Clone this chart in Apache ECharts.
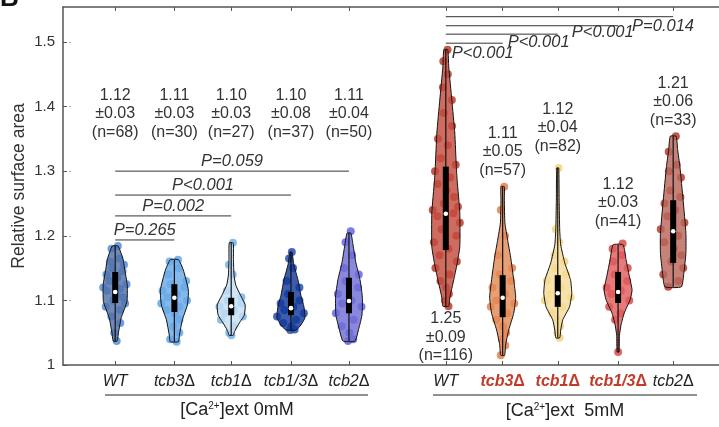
<!DOCTYPE html>
<html><head><meta charset="utf-8">
<script src="https://cdn.jsdelivr.net/npm/echarts@6/dist/echarts.min.js"></script>
<style>html,body{margin:0;padding:0;background:#fff}#c{width:719px;height:427px}</style>
</head><body><div id="c"></div>
<script>
// ---------------- data ----------------
const strains = ['WT','tcb3','tcb1','tcb1/3','tcb2','WT','tcb3','tcb1','tcb1/3','tcb2'];
const highlighted = [false,false,false,false,false,false,true,true,true,false];
const means = ['1.12','1.11','1.10','1.10','1.11','1.25','1.11','1.12','1.12','1.21'];
const sds   = ['0.03','0.03','0.03','0.08','0.04','0.09','0.05','0.04','0.03','0.06'];
const counts = [68,30,27,37,50,116,57,82,41,33];
const q1s     = [1.096,1.082,1.077,1.077,1.080,1.178,1.074,1.090,1.096,1.158];
const q3s     = [1.144,1.125,1.104,1.113,1.135,1.307,1.139,1.139,1.144,1.255];
const medians = [1.113,1.104,1.091,1.088,1.099,1.234,1.104,1.111,1.113,1.207];
// violin outlines: value levels (top→bottom) and relative density
const violinLevels = [
  [1.184,1.163,1.150,1.124,1.098,1.073,1.051,1.037],
  [1.163,1.147,1.116,1.093,1.070,1.046,1.036],
  [1.189,1.163,1.139,1.124,1.108,1.093,1.077,1.067,1.057,1.050,1.046],
  [1.175,1.155,1.132,1.108,1.090,1.073,1.062,1.054],
  [1.204,1.186,1.158,1.132,1.105,1.077,1.057,1.037],
  [1.488,1.461,1.410,1.359,1.307,1.286,1.235,1.183,1.155,1.132,1.105,1.091],
  [1.276,1.255,1.220,1.193,1.167,1.132,1.105,1.080,1.054,1.031,1.015],
  [1.305,1.255,1.209,1.186,1.158,1.132,1.111,1.090,1.070,1.054,1.042],
  [1.186,1.163,1.139,1.116,1.101,1.080,1.062,1.046,1.020],
  [1.354,1.333,1.307,1.255,1.204,1.173,1.142,1.121]
];
const violinDensity = [
  [0.21,0.57,0.66,0.86,0.84,0.43,0.24,0.14],
  [0.29,0.64,1.00,0.93,0.57,0.36,0.29],
  [0.14,0.16,0.20,0.32,0.66,1.00,0.93,0.64,0.36,0.21,0.16],
  [0.07,0.21,0.50,0.71,0.93,1.00,0.71,0.36],
  [0.14,0.29,0.50,0.79,0.96,0.93,0.71,0.43],
  [0.14,0.21,0.43,0.64,0.75,0.81,1.00,1.00,0.79,0.57,0.29,0.21],
  [0.12,0.12,0.16,0.36,0.57,0.79,0.93,0.79,0.43,0.21,0.14],
  [0.07,0.10,0.14,0.21,0.50,0.91,1.00,0.84,0.36,0.21,0.14],
  [0.36,0.57,0.79,1.00,0.86,0.43,0.21,0.10,0.07],
  [0.21,0.32,0.48,0.71,0.91,0.91,0.76,0.59]
];
const dotValues = [
  [1.184,1.180,1.165,1.160,1.155,1.150,1.145,1.140,1.135,1.130,1.125,1.120,1.118,1.115,1.110,1.105,1.100,1.095,1.090,1.085,1.075,1.065,1.050,1.037],
  [1.163,1.160,1.150,1.140,1.130,1.125,1.120,1.115,1.110,1.105,1.100,1.095,1.090,1.085,1.080,1.070,1.060,1.050,1.040,1.036],
  [1.189,1.155,1.140,1.115,1.105,1.100,1.095,1.090,1.085,1.080,1.075,1.070,1.060,1.050,1.046],
  [1.175,1.165,1.150,1.130,1.120,1.110,1.100,1.095,1.090,1.085,1.080,1.075,1.070,1.065,1.060,1.055,1.054],
  [1.207,1.190,1.170,1.150,1.140,1.130,1.120,1.110,1.100,1.095,1.090,1.080,1.070,1.060,1.050,1.040,1.037],
  [1.488,1.470,1.450,1.430,1.410,1.390,1.370,1.350,1.340,1.320,1.310,1.300,1.290,1.280,1.270,1.260,1.250,1.245,1.240,1.235,1.230,1.220,1.210,1.200,1.190,1.180,1.170,1.160,1.150,1.140,1.130,1.120,1.110,1.100,1.091],
  [1.276,1.240,1.200,1.170,1.150,1.140,1.130,1.120,1.110,1.100,1.095,1.090,1.080,1.070,1.060,1.050,1.040,1.030,1.015],
  [1.305,1.210,1.190,1.170,1.160,1.150,1.140,1.130,1.120,1.110,1.105,1.100,1.090,1.080,1.070,1.060,1.050,1.042],
  [1.188,1.180,1.170,1.160,1.150,1.140,1.130,1.120,1.115,1.110,1.100,1.090,1.080,1.070,1.020],
  [1.354,1.330,1.310,1.300,1.290,1.270,1.260,1.250,1.240,1.230,1.220,1.210,1.200,1.190,1.180,1.170,1.160,1.150,1.140,1.130,1.121]
];
const pLabels  = ['P=0.265','P=0.002','P<0.001','P=0.059','P<0.001','P<0.001','P<0.001','P=0.014'];
const pFrom    = [0,0,0,0,5,5,5,5];
const pTo      = [1,2,3,4,6,7,8,9];
const pLevels  = [1.1935,1.2307,1.263,1.300,1.498,1.512,1.525,1.539];
const yTicks = [1,1.1,1.2,1.3,1.4,1.5];
const yName = 'Relative surface area';
const groupNames = [['[Ca','2+',']ext 0mM'], ['[Ca','2+',']ext  5mM']];

// ---------------- layout / style ----------------
const XPOS = [0.9,1.92,2.9,3.93,4.93,6.6,7.58,8.53,9.57,10.52];
const STATS_Y = [1.389,1.389,1.389,1.389,1.389,1.043,1.330,1.367,1.251,1.407];
const HALF = 14;
const JITTER = [0.9,-0.95,0.55,-0.6,1.0,-0.3,0.75,-0.85,0.2,-0.5,0.95,-1.0,0.4,-0.7,0.05,0.65,-0.15];
const fills = ['#5272a8','#6aaae8','#c4def3','#12399a','#6f6ed6','#c44c3e','#e48a55','#f7dc98','#e25d5d','#ba675c'];
const dotCols = ['#4a86d8','#5aa0e8','#6eaee6','#1842b0','#5a5ce0','#b52e1e','#e07a45','#f5cf75','#d84040','#b0301e'];
const FONT = 'Liberation Sans, Arial, sans-serif';

function halfAt(g, v){
  const lv = violinLevels[g], dn = violinDensity[g];
  if (v >= lv[0]) return dn[0]*HALF;
  for (let k=1;k<lv.length;k++){
    if (v >= lv[k]){ const t=(v-lv[k])/(lv[k-1]-lv[k]); return (dn[k]+(dn[k-1]-dn[k])*t)*HALF; }
  }
  return dn[dn.length-1]*HALF;
}

const chart = echarts.init(document.getElementById('c'), null, {renderer:'canvas'});

function violinItem(params, api){
  const g = params.dataIndex;
  const lv = violinLevels[g], dn = violinDensity[g];
  const x0 = api.coord([XPOS[g], 1])[0];
  const right=[], left=[];
  for (let k=0;k<lv.length;k++){
    const y = api.coord([XPOS[g], lv[k]])[1];
    const w = dn[k]*HALF;
    right.push([x0+w,y]); left.unshift([x0-w,y]);
  }
  const yTop = api.coord([XPOS[g], lv[0]])[1];
  const yBot = api.coord([XPOS[g], lv[lv.length-1]])[1];
  const yq1 = api.coord([XPOS[g], q1s[g]])[1];
  const yq3 = api.coord([XPOS[g], q3s[g]])[1];
  const ym = api.coord([XPOS[g], medians[g]])[1];
  return {type:'group', children:[
    {type:'polygon', shape:{points:right.concat(left), smooth:0.15},
      style:{fill:fills[g], opacity:0.82}},
    {type:'polygon', shape:{points:right.concat(left), smooth:0.15},
      style:{fill:'none', stroke:'#111', lineWidth:1}},
    {type:'line', shape:{x1:x0,y1:yTop,x2:x0,y2:yBot}, style:{stroke:'#111', lineWidth:1.2}},
    {type:'rect', shape:{x:x0-3, y:yq3, width:6, height:yq1-yq3}, style:{fill:'#000'}},
    {type:'circle', shape:{cx:x0, cy:ym, r:2.3}, style:{fill:'#fff'}}
  ]};
}

const dotData = [];
dotValues.forEach((arr,g)=>arr.forEach((v,k)=>dotData.push([g,v,k])));
function dotItem(params, api){
  const g = api.value(0), v = api.value(1), k = api.value(2);
  const p = api.coord([XPOS[g], v]);
  const w = halfAt(g, v);
  return {type:'circle', shape:{cx:p[0]+w*JITTER[k%JITTER.length], cy:p[1], r:4},
    style:{fill:dotCols[g], opacity:0.8}};
}

function statsItem(params, api){
  const g = params.dataIndex;
  const p = api.coord([XPOS[g], STATS_Y[g]]);
  return {type:'text', x:p[0], y:p[1], style:{
    text: means[g] + '\n±' + sds[g] + '\n(n=' + counts[g] + ')',
    fill:'#333', font:'16px '+FONT, align:'center', verticalAlign:'middle', lineHeight:18.5}};
}

const P_TXT_DX = [0,0,0,0,6,5,14,14];
const P_TXT_DY = [0,0,0,0,10,8,7,10];
function pItem(params, api){
  const i = params.dataIndex;
  const a = api.coord([XPOS[pFrom[i]], pLevels[i]]);
  const b = api.coord([XPOS[pTo[i]], pLevels[i]]);
  const children = [{type:'line', shape:{x1:a[0],y1:a[1],x2:b[0],y2:b[1]}, style:{stroke:'#333', lineWidth:1}}];
  if (i < 4){
    children.push({type:'text', x:(a[0]+b[0])/2, y:a[1]-1, style:{text:pLabels[i], fill:'#333',
      font:'italic 16.5px '+FONT, align:'center', verticalAlign:'bottom'}});
  } else {
    const anchor = api.coord([XPOS[i===4 ? pFrom[i] : pTo[i-1]], pLevels[i]]);
    children.push({type:'text', x:anchor[0]+P_TXT_DX[i], y:a[1]+P_TXT_DY[i], style:{text:pLabels[i], fill:'#333',
      font:'italic 16.5px '+FONT, align:'left', verticalAlign:'middle'}});
  }
  return {type:'group', children};
}

function labelFor(v){
  let i = XPOS.findIndex(x=>Math.abs(x-v)<1e-6);
  if (i<0) return '';
  const s = strains[i];
  if (s==='WT') return i===0 ? '{wt|WT}' : '{it|WT}';
  if (highlighted[i]) return '{rb|' + s + '}{rd|Δ}';
  return '{it|' + s + '}{d|Δ}';
}

const axisGray = '#555';
function grpText(parts){ return '{a|'+parts[0]+'}{s|'+parts[1]+'}{a|'+parts[2]+'}'; }
const grpRich = {a:{fontSize:18, fill:'#222', fontFamily:FONT}, s:{fontSize:10, fill:'#222', fontFamily:FONT, verticalAlign:'top'}};

chart.setOption({
  animation:false,
  textStyle:{fontFamily:FONT},
  grid:{left:63, right:0, top:7, bottom:62, containLabel:false, outerBoundsMode:'none'},
  xAxis:[
    {type:'value', min:0, max:11.31, position:'bottom',
      axisLine:{show:true, lineStyle:{color:axisGray, width:1.5}},
      axisTick:{show:true, inside:true, length:4, customValues:XPOS, lineStyle:{color:axisGray}},
      splitLine:{show:false},
      axisLabel:{customValues:XPOS, margin:9, formatter:labelFor, rich:{
        it:{fontStyle:'italic', fontSize:16, color:'#222'},
        wt:{fontStyle:'italic', fontSize:16, color:'#222', padding:[0,0,10,0]},
        d:{fontSize:16, color:'#222'},
        rb:{fontStyle:'italic', fontWeight:'bold', fontSize:16, color:'#c23b2a'},
        rd:{fontWeight:'bold', fontSize:16, color:'#c23b2a'}
      }}},
    {type:'value', min:0, max:11.31, position:'top',
      axisLine:{show:true, lineStyle:{color:axisGray, width:1.5}},
      axisTick:{show:true, inside:true, length:4, customValues:XPOS, lineStyle:{color:axisGray}},
      splitLine:{show:false}, axisLabel:{show:false}}
  ],
  yAxis:[
    {type:'value', min:1, max:1.554, position:'left',
      axisLine:{show:true, lineStyle:{color:axisGray, width:1.5}},
      axisTick:{show:true, inside:true, length:4, customValues:yTicks, lineStyle:{color:axisGray}},
      splitLine:{show:false},
      axisLabel:{customValues:yTicks, margin:8, fontSize:15, color:'#333',
        formatter:v=> (Math.abs(v-1)<1e-9 ? '1' : v.toFixed(1))}},
    {type:'value', min:1, max:1.554, position:'right', offset:-6,
      axisLine:{show:false},
      axisTick:{show:true, inside:false, length:2, customValues:[1.1,1.2,1.3,1.4,1.5], lineStyle:{color:'#aaa'}},
      splitLine:{show:false}, axisLabel:{show:false}}
  ],
  series:[
    {type:'custom', name:'dots', renderItem:dotItem, data:dotData, z:2, clip:false},
    {type:'custom', name:'violins', renderItem:violinItem, data:strains.map((s,i)=>[XPOS[i], medians[i]]), z:3, clip:false},
    {type:'custom', name:'stats', renderItem:statsItem, data:strains.map((s,i)=>[XPOS[i], STATS_Y[i]]), z:4, clip:false},
    {type:'custom', name:'pvals', renderItem:pItem, data:pLabels.map((s,i)=>[XPOS[pTo[i]], pLevels[i]]), z:4, clip:false}
  ],
  graphic:[
    {type:'text', left:0, top:-14, style:{text:'B', font:'bold 26px '+FONT, fill:'#111'}},
    {type:'text', x:19, y:186, rotation:Math.PI/2, style:{text:yName, font:'17.5px '+FONT, fill:'#333', align:'center', verticalAlign:'middle'}},
    {type:'line', shape:{x1:105,y1:395,x2:368,y2:395}, style:{stroke:'#222', lineWidth:1.2}},
    {type:'line', shape:{x1:433,y1:395,x2:697,y2:395}, style:{stroke:'#222', lineWidth:1.2}},
    {type:'text', x:237, y:410, style:{text:grpText(groupNames[0]), align:'center', verticalAlign:'middle', rich:grpRich}},
    {type:'text', x:565, y:411, style:{text:grpText(groupNames[1]), align:'center', verticalAlign:'middle', rich:grpRich}}
  ]
});
</script></body></html>
